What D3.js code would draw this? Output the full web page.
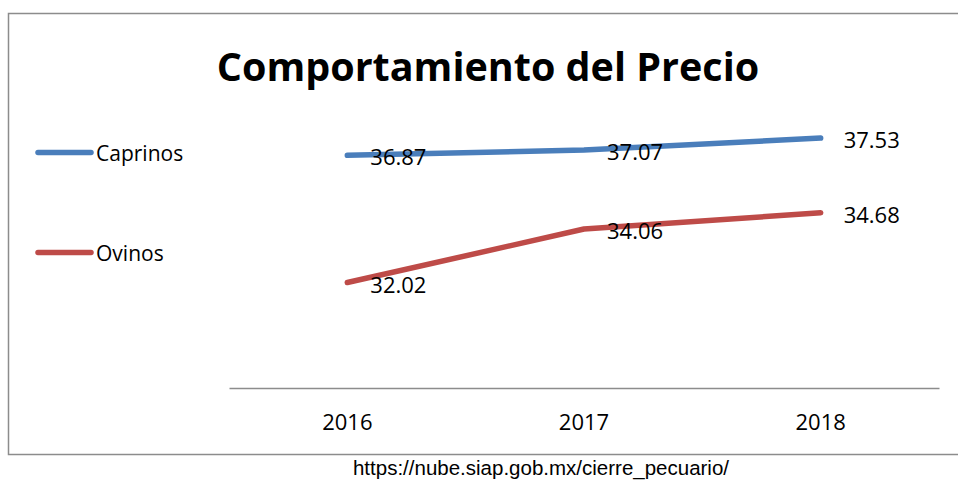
<!DOCTYPE html>
<html>
<head>
<meta charset="utf-8">
<script src="https://cdn.jsdelivr.net/npm/d3@7"></script>
<style>
  body { margin: 0; background: #fff; }
  svg { display: block; }
  text { font-family: "Open Sans", sans-serif; }
  text.source { font-family: "Liberation Sans", Arial, sans-serif; }
</style>
</head>
<body>
<div id="chart"></div>
<script>
// Comportamiento del Precio - line chart

const years = ["2016", "2017", "2018"];
const caprinos = [36.87, 37.07, 37.53];
const ovinos = [32.02, 34.06, 34.68];
const seriesNames = ["Caprinos", "Ovinos"];
const seriesColors = ["#4a7ebb", "#be4b48"];

const width = 958,
    height = 481,
    margin = ({ top: 125.7, right: 19, bottom: 93, left: 229 });

const svg = d3.select("#chart")
    .append("svg")
    .attr("width", width)
    .attr("height", height);

// chart frame
svg.append("rect")
    .attr("x", 8.5).attr("y", 13.5)
    .attr("width", 962).attr("height", 441)
    .attr("fill", "none")
    .attr("stroke", "#8c8c8c")
    .attr("stroke-width", 1.5);

const x = d3.scaleBand()
    .domain(years)
    .range([margin.left, width - margin.right]);

const y = d3.scaleLinear()
    .domain([28, 38])
    .range([height - margin.bottom, margin.top]);

// x axis, no ticks
const xAxis = svg.append("g")
    .attr("transform", `translate(0,${height - margin.bottom})`)
    .call(d3.axisBottom(x).tickSize(0).tickPadding(26));
xAxis.select(".domain").attr("stroke", "#8c8c8c").attr("stroke-width", 1.5);
xAxis.selectAll("text")
    .attr("font-size", 22)
    .attr("fill", "#000");

const data = [caprinos, ovinos];
const line = d3.line()
    .x((d, i) => x(years[i]) + x.bandwidth() / 2)
    .y(d => y(d));

svg.selectAll(".series")
  .data(data)
  .join("path")
    .attr("class", "series")
    .attr("d", line)
    .attr("fill", "none")
    .attr("stroke", (d, i) => seriesColors[i])
    .attr("stroke-width", 5.5)
    .attr("stroke-linecap", "round")
    .attr("stroke-linejoin", "round");

// data labels
data.forEach((vals, s) => {
  svg.append("g").selectAll("text")
    .data(vals)
    .join("text")
      .attr("x", (d, i) => x(years[i]) + x.bandwidth() / 2 + 23)
      .attr("y", d => y(d) + 10)
      .attr("font-size", 22)
      .attr("fill", "#000")
      .text(d => d.toFixed(2));
});

// title
svg.append("text")
    .attr("x", 488)
    .attr("y", 81)
    .attr("text-anchor", "middle")
    .attr("font-size", 39.5)
    .attr("font-weight", "bold")
    .attr("fill", "#000")
    .text("Comportamiento del Precio");

// legend
const legend = svg.append("g");
seriesNames.forEach((name, i) => {
  const ly = 152.5 + i * 100;
  legend.append("line")
      .attr("x1", 38).attr("x2", 91)
      .attr("y1", ly).attr("y2", ly)
      .attr("stroke", seriesColors[i])
      .attr("stroke-width", 5.5)
      .attr("stroke-linecap", "round");
  legend.append("text")
      .attr("x", 96)
      .attr("y", ly + 8)
      .attr("font-size", 21)
      .attr("fill", "#000")
      .text(name);
});

// source
svg.append("text")
    .attr("class", "source")
    .attr("x", 541)
    .attr("y", 475)
    .attr("text-anchor", "middle")
    .attr("font-size", 20.5)
    .attr("fill", "#000")
    .text("https://nube.siap.gob.mx/cierre_pecuario/");
</script>
</body>
</html>
